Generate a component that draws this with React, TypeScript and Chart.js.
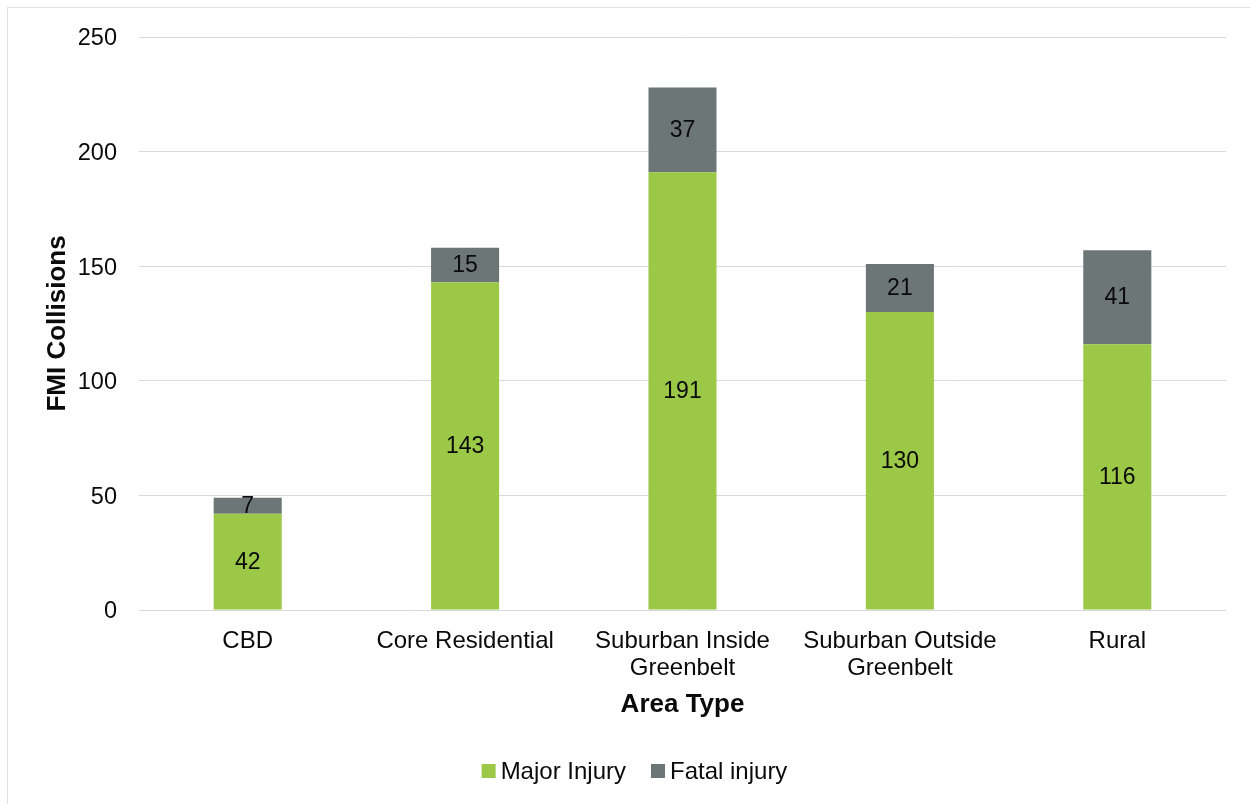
import React, { useEffect, useRef } from "react";
import { Chart, registerables } from "chart.js";

Chart.register(...registerables);

const categories: (string | string[])[] = [
  "CBD",
  "Core Residential",
  ["Suburban Inside", "Greenbelt"],
  ["Suburban Outside", "Greenbelt"],
  "Rural",
];
const majorInjury = [42, 143, 191, 130, 116];
const fatalInjury = [7, 15, 37, 21, 41];
const yTicks = [0, 50, 100, 150, 200, 250];
const seriesNames = ["Major Injury", "Fatal injury"];
const seriesColors = ["#9BC847", "#6D7677"];

const FONT = "'Liberation Sans', Arial, sans-serif";
const TEXT = "#0a0a0a";

const labelPlugin = {
  id: "segLabels",
  afterDatasetsDraw(chart: any) {
    const ctx = chart.ctx;
    ctx.save();
    ctx.font = `23px ${FONT}`;
    ctx.fillStyle = TEXT;
    ctx.textAlign = "center";
    ctx.textBaseline = "middle";
    chart.data.datasets.forEach((ds: any, di: number) => {
      const meta = chart.getDatasetMeta(di);
      meta.data.forEach((el: any, i: number) => {
        const { x, y, base } = el.getProps(["x", "y", "base"], true);
        ctx.fillText(String(ds.data[i]), x, (y + base) / 2 + 1);
      });
    });
    ctx.restore();
  },
};

const legendPlugin = {
  id: "customLegend",
  afterDraw(chart: any) {
    const ctx = chart.ctx;
    ctx.save();
    ctx.font = `24px ${FONT}`;
    ctx.textBaseline = "middle";
    ctx.textAlign = "left";
    const box = 14;
    const gapText = 5;
    const gapItem = 25;
    const widths = chart.data.datasets.map((d: any) => ctx.measureText(d.label).width);
    let total = 0;
    widths.forEach((w: number, i: number) => {
      total += box + gapText + w + (i > 0 ? gapItem : 0);
    });
    const cx = 634.5;
    const cy = 771;
    let x = cx - total / 2;
    chart.data.datasets.forEach((d: any, i: number) => {
      ctx.fillStyle = d.backgroundColor;
      ctx.fillRect(x, cy - box / 2, box, box);
      x += box + gapText;
      ctx.fillStyle = TEXT;
      ctx.fillText(d.label, x, cy + 1);
      x += widths[i] + gapItem;
    });
    ctx.restore();
  },
};

export default function App() {
  const ref = useRef<HTMLCanvasElement | null>(null);
  useEffect(() => {
    if (!ref.current) return;
    const chart = new Chart(ref.current, {
      type: "bar",
      data: {
        labels: categories,
        datasets: [
          {
            label: seriesNames[0],
            data: majorInjury,
            backgroundColor: seriesColors[0],
            barPercentage: 0.313,
            categoryPercentage: 1,
          },
          {
            label: seriesNames[1],
            data: fatalInjury,
            backgroundColor: seriesColors[1],
            barPercentage: 0.313,
            categoryPercentage: 1,
          },
        ],
      },
      plugins: [labelPlugin, legendPlugin],
      options: {
        animation: false,
        responsive: false,
        layout: { padding: { top: 37, right: 24, bottom: 65, left: 0 } },
        plugins: {
          tooltip: { enabled: false },
          legend: { display: false },
        },
        scales: {
          x: {
            stacked: true,
            grid: { display: false },
            border: { display: false },
            ticks: {
              color: TEXT,
              padding: 10,
              font: { family: FONT, size: 24, lineHeight: 1.12 },
              maxRotation: 0,
              autoSkip: false,
            },
            title: {
              display: true,
              text: "Area Type",
              color: TEXT,
              font: { family: FONT, size: 26, weight: "bold" },
              padding: { top: 4, bottom: 19 },
            },
            afterFit(scale: any) {
              scale.height = 129;
            },
          },
          y: {
            stacked: true,
            min: 0,
            max: 250,
            afterBuildTicks(scale: any) {
              scale.ticks = yTicks.map((v) => ({ value: v }));
            },
            grid: { color: "#d9d9d9", lineWidth: 1, drawTicks: false },
            border: { display: false },
            ticks: {
              color: TEXT,
              padding: 22,
              labelOffset: 2,
              font: { family: FONT, size: 23.5 },
            },
            title: {
              display: true,
              text: "FMI Collisions",
              color: TEXT,
              font: { family: FONT, size: 26, weight: "bold" },
              padding: { top: 42, bottom: 0 },
            },
            afterFit(scale: any) {
              scale.width = 139;
            },
          },
        },
      },
    });
    return () => chart.destroy();
  }, []);
  return (
    <div
      style={{
        position: "fixed",
        left: 0,
        top: 0,
        width: 1250,
        height: 804,
        background: "#fff",
        overflow: "hidden",
      }}
    >
      <div
        style={{
          position: "absolute",
          left: 7,
          top: 7,
          width: 1260,
          height: 800,
          border: "1.5px solid #e0e0e0",
        }}
      />
      <canvas
        ref={ref}
        width={1250}
        height={804}
        style={{ position: "absolute", left: 0, top: 0 }}
      />
    </div>
  );
}
